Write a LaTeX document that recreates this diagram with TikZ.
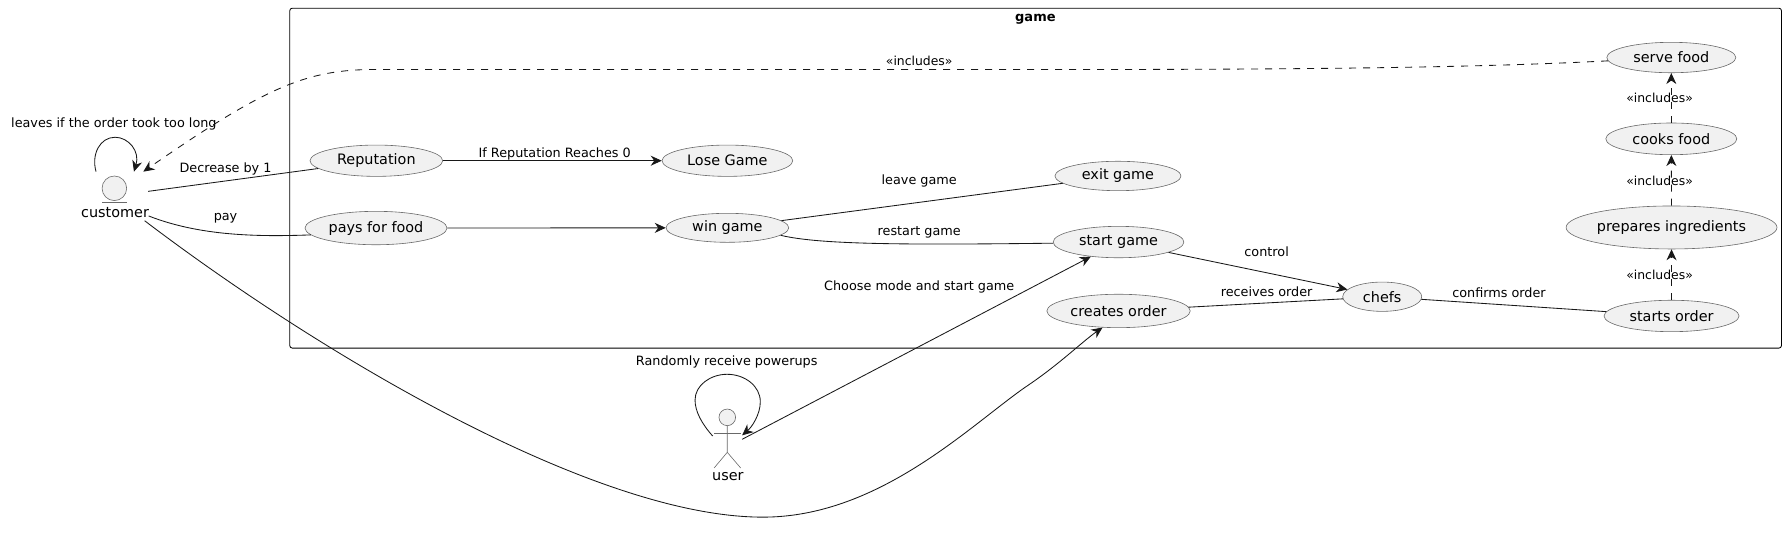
\documentclass[tikz,border=0pt]{standalone}
\usepackage{fontspec}
\setmainfont{DejaVu Sans}
\usetikzlibrary{arrows.meta,shapes.geometric}
\definecolor{inkdark}{HTML}{181818}
\definecolor{casefill}{HTML}{F1F1F1}
\tikzset{>={Stealth[length=11pt,width=10pt,inset=3.5pt]}}
\tikzset{
  usecase/.style={ellipse,draw=inkdark!65,line width=.6pt,fill=casefill,inner sep=0pt,
    text=black,font=\fontsize{14.4}{16}\selectfont},
  edgetext/.style={inner sep=0pt,text=black,font=\fontsize{12.8}{15}\selectfont},
  incltext/.style={inner sep=0pt,text=black,font=\fontsize{12.4}{15}\selectfont},
  actortext/.style={inner sep=0pt,text=black,font=\fontsize{14.4}{16}\selectfont},
  conn/.style={draw=inkdark,line width=.85pt},
  dep/.style={conn,dash pattern=on 7pt off 7pt},
  actorline/.style={draw=inkdark!65,line width=.6pt}
}
\begin{document}
\begin{tikzpicture}[x=1.139pt,y=-1.139pt]
\useasboundingbox (0,0) rectangle (1568,481.1);
\draw[line width=.85pt,rounded corners=2.5pt] (254.4,7.2) rectangle (1564,305.6);
\node[inner sep=0pt,font=\fontsize{13}{15}\selectfont\bfseries] (gametitle) at (909,17) {game};
\node[usecase,minimum width=132.7pt,minimum height=31.3pt] (rep) at (330.4,141.1) {Reputation};
\node[usecase,minimum width=130.7pt,minimum height=31.3pt] (lose) at (638.6,141.1) {Lose Game};
\node[usecase,minimum width=126pt,minimum height=29.4pt] (exit) at (981.5,154.5) {exit game};
\node[usecase,minimum width=122.7pt,minimum height=29pt] (win) at (638.6,200) {win game};
\node[usecase,minimum width=142pt,minimum height=33.4pt] (pay) at (330.1,200.2) {pays for food};
\node[usecase,minimum width=130.7pt,minimum height=31.4pt] (start) at (982,212.5) {start game};
\node[usecase,minimum width=143.4pt,minimum height=33.4pt] (creates) at (982,273) {creates order};
\node[usecase,minimum width=79pt,minimum height=29.3pt] (chefs) at (1213.5,260.5) {chefs};
\node[usecase,minimum width=135pt,minimum height=31.4pt] (starts) at (1467.5,277.4) {starts order};
\node[usecase,minimum width=189pt,minimum height=43pt] (prep) at (1467.5,199.7) {prepares ingredients};
\node[usecase,minimum width=131pt,minimum height=31.7pt] (cooks) at (1467.3,121.9) {cooks food};
\node[usecase,minimum width=129pt,minimum height=30.4pt] (serve) at (1467.3,50.5) {serve food};
% customer
\node[circle,actorline,fill=casefill,minimum size=24.6pt,inner sep=0pt] (cust) at (100.4,165.3) {};
\draw[actorline] (89.6,177.6) -- (111.2,177.6);
\node[actortext] (custname) at (101,186.4) {customer};
\coordinate (custa) at (130,168);
\coordinate (custb) at (130.5,189.6);
\coordinate (custc) at (127,193.8);
\coordinate (custd) at (125.8,150.7);
% user
\node[circle,actorline,fill=casefill,minimum size=16.6pt,inner sep=0pt] (user) at (638.5,366.4) {};
\coordinate (hip) at (638.5,397.1);
\coordinate (usera) at (651.5,385.7);
\draw[actorline] (user) -- (hip) -- (626.9,410.9);
\draw[actorline] (hip) -- (650.3,410.9);
\draw[actorline] (626.9,380.2) -- (650.3,380.2);
\node[actortext] (username) at (639,418.5) {user};
% links
\draw[conn,->] (84.3,150.7) .. controls (80,135) and (88,120.5) .. (101,120.5)
  .. controls (113,120.5) and (123,133) .. (117.6,150.7);
\node[edgetext] (leaves) at (100,108.5) {leaves if the order took too long};
\draw[conn] (custa) -- (rep);
\node[edgetext] (decrease) at (198,148.5) {Decrease by 1};
\draw[conn] (custb) .. controls (175,207) and (225,208) .. (pay.186);
\node[edgetext] (paytext) at (198,191.7) {pay};
\draw[conn,->] (custc) .. controls (280,310) and (520,453) .. (668,454)
  .. controls (770,455) and (850,375) .. (900,340)
  .. controls (930,320) and (950,300) .. (creates.226);
\draw[dep,->] (serve.183) .. controls (1250,62) and (1000,61) .. (800,61)
  -- (330,61) .. controls (270,61) and (235,75) .. (custd);
\node[incltext] (incl0) at (807,53.5) {«includes»};
\draw[conn,->] (rep) -- (lose);
\node[edgetext] (reach) at (487,135.5) {If Reputation Reaches 0};
\draw[conn,->] (pay) -- (win);
\draw[conn] (win) -- (exit);
\node[edgetext] (leave) at (807,159) {leave game};
\draw[conn] (win.352) .. controls (720,215) and (800,215) .. (start.181);
\node[edgetext] (restart) at (807,204) {restart game};
\draw[conn,->] (usera) -- (start);
\node[edgetext] (choose) at (807,252) {Choose mode and start game};
\draw[conn,->] (625.7,382.8) .. controls (616,372) and (610.2,361) .. (610.2,351.2)
  .. controls (610.2,338) and (624,328.6) .. (638.3,328.6)
  .. controls (654,328.6) and (667.5,339) .. (667.5,352.7)
  .. controls (667.5,364) and (660,375) .. (651.5,382.2);
\node[edgetext] (powerups) at (638,317.5) {Randomly receive powerups};
\draw[conn,->] (start) -- (chefs);
\node[edgetext] (control) at (1112,221) {control};
\draw[conn] (creates) -- (chefs);
\node[edgetext] (receives) at (1112,256) {receives order};
\draw[conn] (chefs) -- (starts);
\node[edgetext] (confirms) at (1316,257) {confirms order};
\draw[dep,->] (starts) -- (prep);
\node[incltext] (incl1) at (1457,241.4) {«includes»};
\draw[dep,->] (prep) -- (cooks);
\node[incltext] (incl2) at (1457,158.7) {«includes»};
\draw[dep,->] (cooks) -- (serve);
\node[incltext] (incl3) at (1457,85.8) {«includes»};
\end{tikzpicture}
\end{document}
